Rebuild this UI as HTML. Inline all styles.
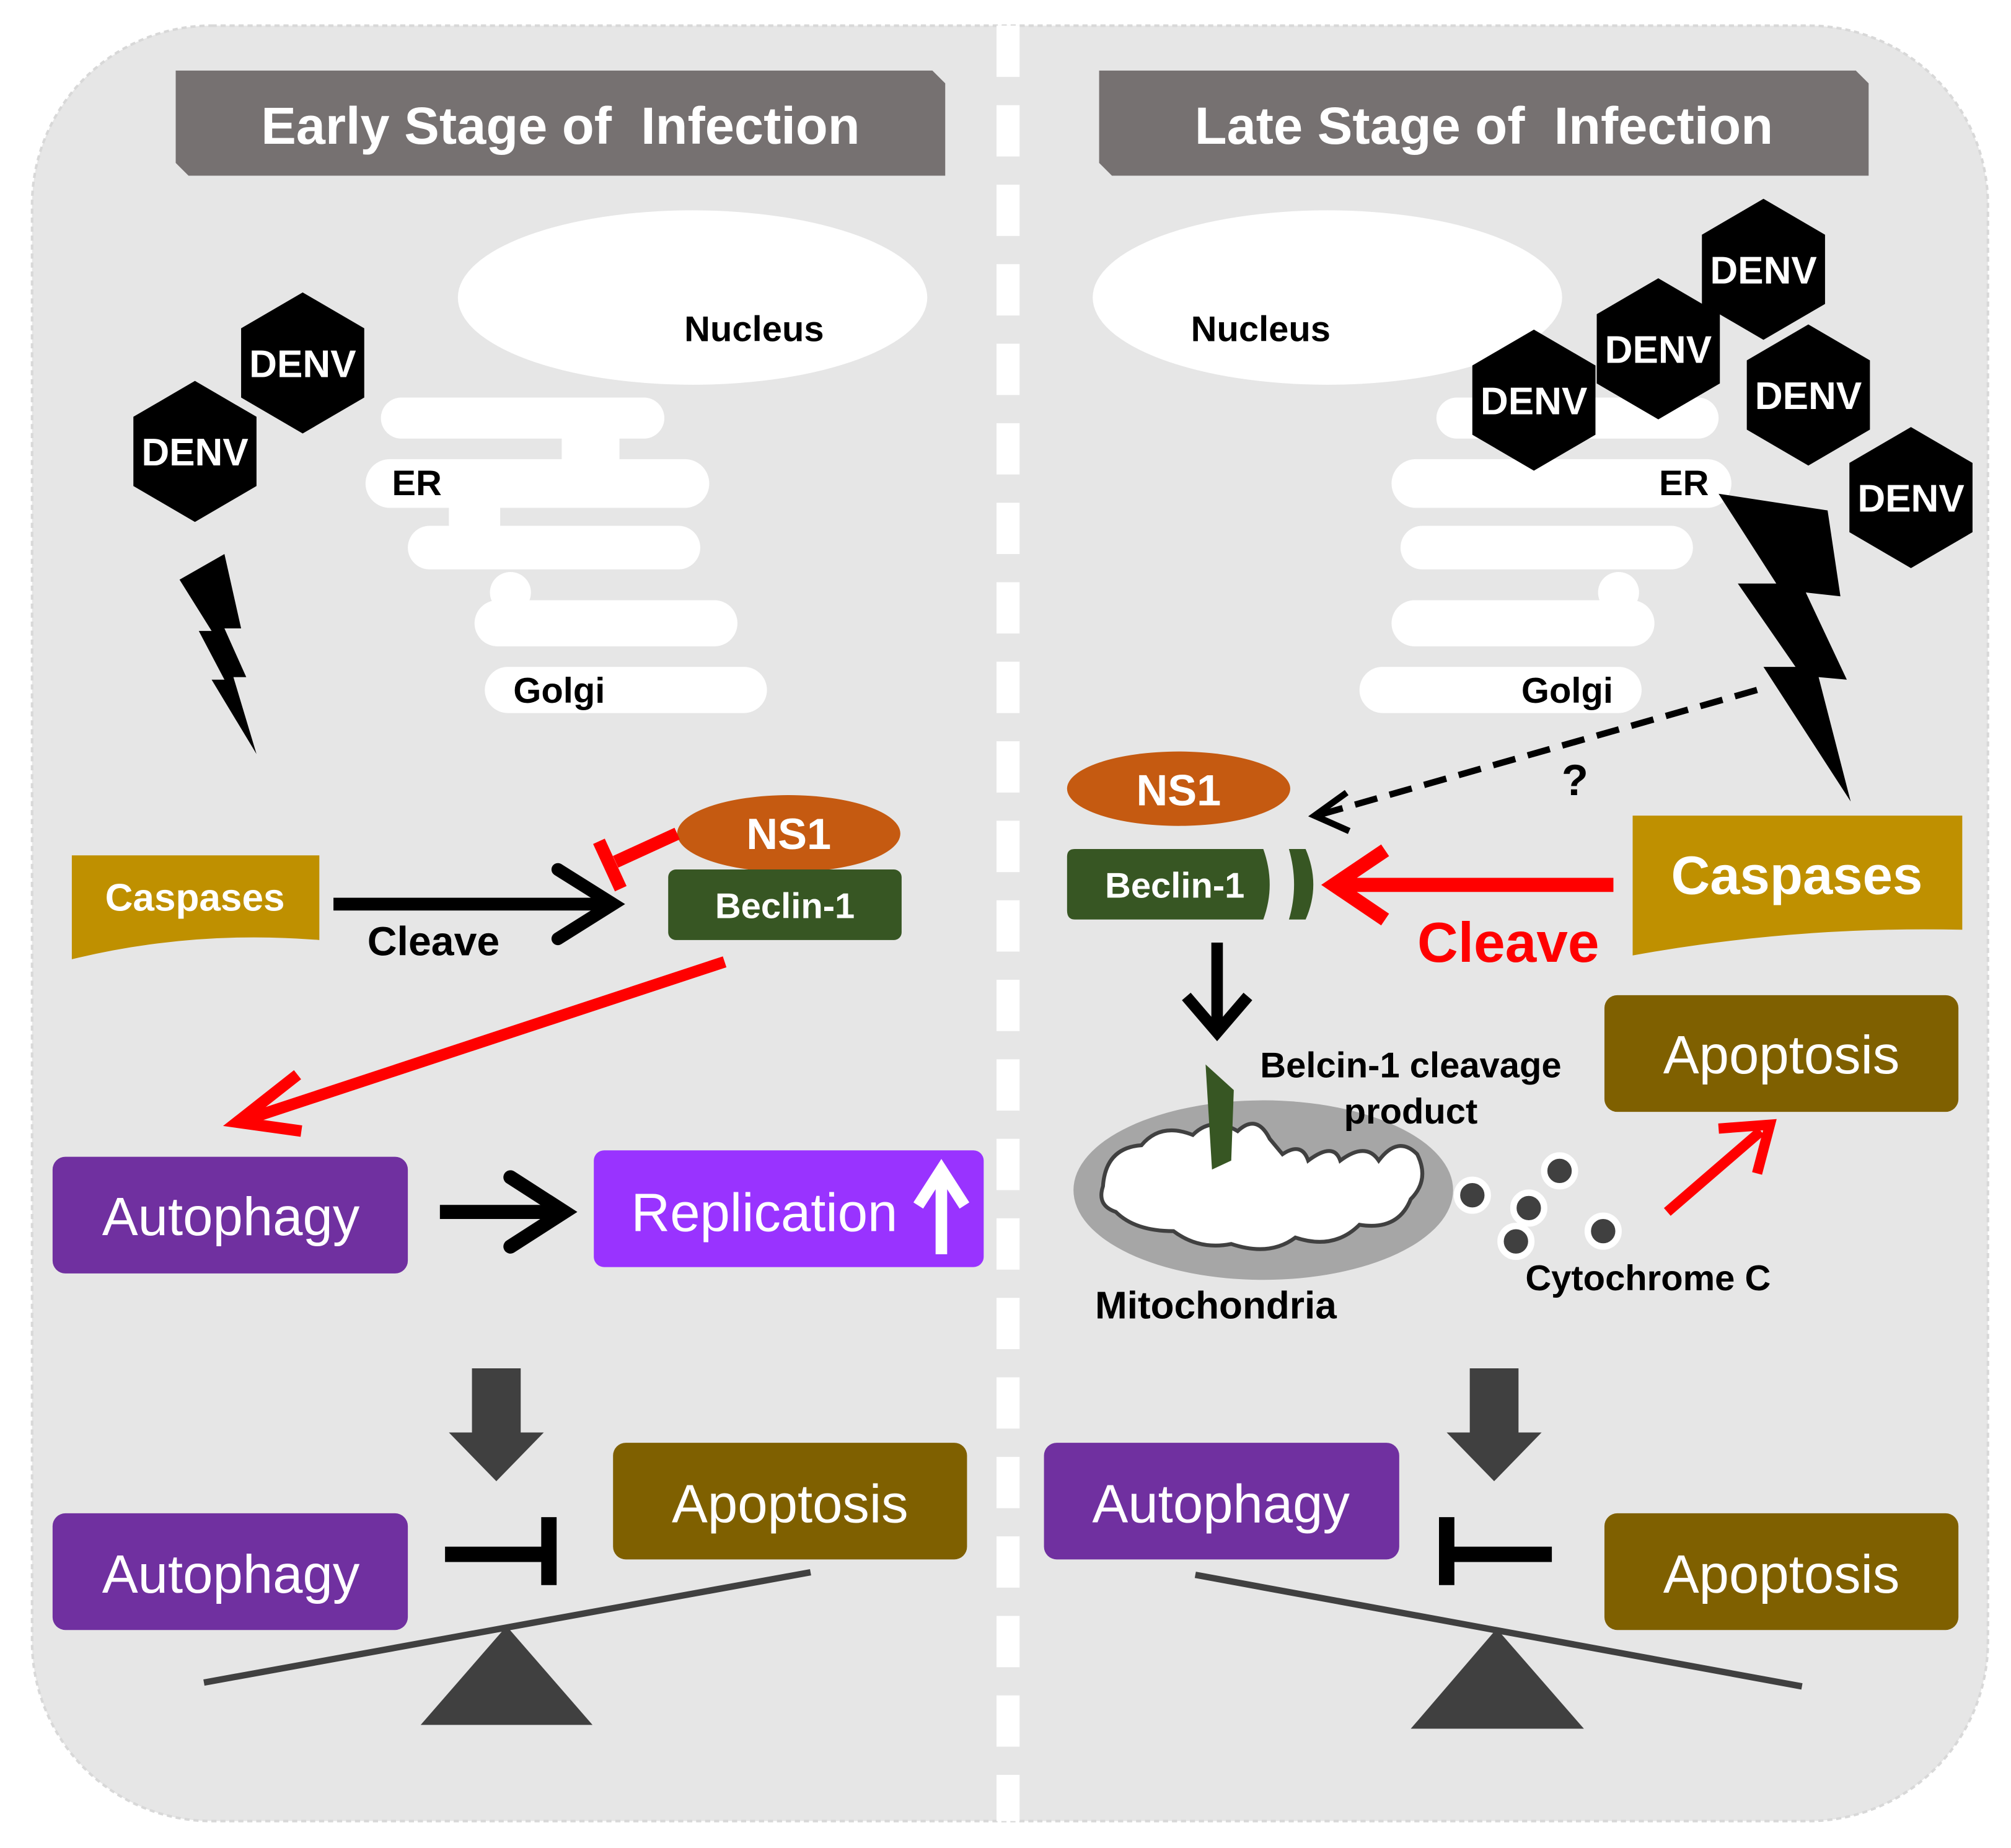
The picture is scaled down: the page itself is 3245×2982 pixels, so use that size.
<!DOCTYPE html>
<html><head><meta charset="utf-8"><style>
html,body{margin:0;padding:0;background:#fff}
svg{display:block}
text{font-family:"Liberation Sans",Arial,sans-serif}
</style></head><body>
<svg width="3245" height="2982" viewBox="0 0 1568 1441" preserveAspectRatio="none" xmlns="http://www.w3.org/2000/svg">
<defs>
<g id="hex"><polygon points="0,-55 48,-27 48,27 0,55 -48,27 -48,-27" fill="#000"/></g>
</defs>
<rect x="25" y="20" width="1525" height="1400" rx="140" fill="#e6e6e6" stroke="#d8d8d8" stroke-width="2" stroke-dasharray="4 3"/>
<line x1="786" y1="20" x2="786" y2="1420" stroke="#fff" stroke-width="18" stroke-dasharray="40 22"/>

<polygon points="137,55 727,55 737,65 737,137 147,137 137,127" fill="#767171"/>
<text x="437" y="112" font-size="41" font-weight="bold" fill="#fff" text-anchor="middle">Early Stage of&#160; Infection</text>
<polygon points="857,55 1447,55 1457,65 1457,137 867,137 857,127" fill="#767171"/>
<text x="1157" y="112" font-size="41" font-weight="bold" fill="#fff" text-anchor="middle">Late Stage of&#160; Infection</text>

<ellipse cx="540" cy="232" rx="183" ry="68" fill="#fff"/>
<text x="588" y="266" font-size="28" font-weight="bold" text-anchor="middle">Nucleus</text>
<g fill="#fff">
<rect x="297" y="310" width="221" height="32" rx="16"/>
<rect x="438" y="335" width="45" height="30"/>
<rect x="285" y="358" width="268" height="38" rx="19"/>
<rect x="350" y="390" width="40" height="25"/>
<rect x="318" y="410" width="228" height="34" rx="17"/>
<rect x="370" y="468" width="205" height="36" rx="18"/>
<circle cx="398" cy="462" r="16"/>
<rect x="378" y="520" width="220" height="36" rx="18"/>
</g>
<text x="325" y="386" font-size="28" font-weight="bold" text-anchor="middle">ER</text>
<text x="436" y="548" font-size="28" font-weight="bold" text-anchor="middle">Golgi</text>

<use href="#hex" x="236" y="283"/>
<text x="236" y="294" font-size="30" font-weight="bold" fill="#fff" text-anchor="middle">DENV</text>
<use href="#hex" x="152" y="352"/>
<text x="152" y="363" font-size="30" font-weight="bold" fill="#fff" text-anchor="middle">DENV</text>

<polygon points="175,432 188,490 175,490 192,528 182,528 200,588 165,530 175,530 155,492 165,492 140,452" fill="#000"/>

<path d="M56,667 L249,667 L249,733 Q150,725 56,748 Z" fill="#bf9000"/>
<text x="152" y="710" font-size="30" font-weight="bold" fill="#fff" text-anchor="middle">Caspases</text>
<line x1="260" y1="705" x2="475" y2="705" stroke="#000" stroke-width="10"/>
<polyline points="435,678 478,705 435,732" fill="none" stroke="#000" stroke-width="10" stroke-linecap="round"/>
<text x="338" y="745" font-size="32" font-weight="bold" text-anchor="middle">Cleave</text>

<ellipse cx="615" cy="650" rx="87" ry="30" fill="#c55a11"/>
<text x="615" y="662" font-size="34" font-weight="bold" fill="#fff" text-anchor="middle">NS1</text>
<rect x="521" y="678" width="182" height="55" rx="6" fill="#375623"/>
<text x="612" y="716" font-size="28" font-weight="bold" fill="#fff" text-anchor="middle">Beclin-1</text>
<line x1="528" y1="650" x2="480" y2="672" stroke="#f00" stroke-width="10"/>
<line x1="467" y1="656" x2="484" y2="693" stroke="#f00" stroke-width="10"/>

<line x1="565" y1="750" x2="195" y2="872" stroke="#f00" stroke-width="9"/>
<polyline points="232,838 185,875 235,882" fill="none" stroke="#f00" stroke-width="9"/>

<rect x="41" y="902" width="277" height="91" rx="10" fill="#7030a0"/>
<text x="180" y="963" font-size="42" fill="#fff" text-anchor="middle">Autophagy</text>
<line x1="343" y1="945" x2="435" y2="945" stroke="#000" stroke-width="11"/>
<polyline points="398,918 440,945 398,972" fill="none" stroke="#000" stroke-width="11" stroke-linecap="round"/>
<rect x="463" y="897" width="304" height="91" rx="8" fill="#9933ff"/>
<text x="596" y="960" font-size="42" fill="#fff" text-anchor="middle">Replication</text>
<line x1="734" y1="978" x2="734" y2="918" stroke="#fff" stroke-width="9"/>
<polyline points="716,940 734,912 752,940" fill="none" stroke="#fff" stroke-width="9"/>

<polygon points="368,1067 406,1067 406,1117 424,1117 387,1155 350,1117 368,1117" fill="#404040"/>
<rect x="41" y="1180" width="277" height="91" rx="10" fill="#7030a0"/>
<text x="180" y="1242" font-size="42" fill="#fff" text-anchor="middle">Autophagy</text>
<line x1="347" y1="1212" x2="428" y2="1212" stroke="#000" stroke-width="12"/>
<line x1="428" y1="1183" x2="428" y2="1236" stroke="#000" stroke-width="12"/>
<rect x="478" y="1125" width="276" height="91" rx="10" fill="#7f6000"/>
<text x="616" y="1187" font-size="42" fill="#fff" text-anchor="middle">Apoptosis</text>
<line x1="159" y1="1312" x2="632" y2="1226" stroke="#404040" stroke-width="5"/>
<polygon points="395,1268 462,1345 328,1345" fill="#404040"/>

<ellipse cx="1035" cy="232" rx="183" ry="68" fill="#fff"/>
<text x="983" y="266" font-size="28" font-weight="bold" text-anchor="middle">Nucleus</text>
<g fill="#fff">
<rect x="1120" y="310" width="220" height="32" rx="16"/>
<rect x="1085" y="358" width="265" height="38" rx="19"/>
<rect x="1092" y="410" width="228" height="34" rx="17"/>
<rect x="1085" y="468" width="205" height="36" rx="18"/>
<circle cx="1262" cy="462" r="16"/>
<rect x="1060" y="520" width="220" height="36" rx="18"/>
</g>
<text x="1313" y="386" font-size="28" font-weight="bold" text-anchor="middle">ER</text>
<text x="1222" y="548" font-size="28" font-weight="bold" text-anchor="middle">Golgi</text>

<polygon points="1340,385 1425,398 1435,465 1408,462 1440,530 1418,528 1443,625 1375,520 1400,520 1355,455 1385,455" fill="#000"/>

<use href="#hex" x="1375" y="210"/><text x="1375" y="221" font-size="30" font-weight="bold" fill="#fff" text-anchor="middle">DENV</text>
<use href="#hex" x="1293" y="272"/><text x="1293" y="283" font-size="30" font-weight="bold" fill="#fff" text-anchor="middle">DENV</text>
<use href="#hex" x="1196" y="312"/><text x="1196" y="323" font-size="30" font-weight="bold" fill="#fff" text-anchor="middle">DENV</text>
<use href="#hex" x="1410" y="308"/><text x="1410" y="319" font-size="30" font-weight="bold" fill="#fff" text-anchor="middle">DENV</text>
<use href="#hex" x="1490" y="388"/><text x="1490" y="399" font-size="30" font-weight="bold" fill="#fff" text-anchor="middle">DENV</text>

<line x1="1370" y1="538" x2="1030" y2="635" stroke="#000" stroke-width="5" stroke-dasharray="18 10"/>
<polyline points="1050,618 1025,636 1052,648" fill="none" stroke="#000" stroke-width="5"/>
<text x="1228" y="620" font-size="34" font-weight="bold" text-anchor="middle">?</text>

<ellipse cx="919" cy="615" rx="87" ry="29" fill="#c55a11"/>
<text x="919" y="628" font-size="34" font-weight="bold" fill="#fff" text-anchor="middle">NS1</text>
<path d="M838,662 L985,662 Q995,690 985,717 L838,717 Q832,717 832,710 L832,668 Q832,662 838,662 Z" fill="#375623"/>
<text x="916" y="700" font-size="28" font-weight="bold" fill="#fff" text-anchor="middle">Beclin-1</text>
<path d="M1005,662 L1018,662 Q1030,690 1018,717 L1005,717 Q1013,690 1005,662 Z" fill="#375623"/>
<line x1="1258" y1="690" x2="1045" y2="690" stroke="#f00" stroke-width="11"/>
<polyline points="1080,663 1040,690 1080,717" fill="none" stroke="#f00" stroke-width="11"/>
<text x="1176" y="750" font-size="44" font-weight="bold" fill="#f00" text-anchor="middle">Cleave</text>
<path d="M1273,636 L1530,636 L1530,725 Q1400,722 1273,745 Z" fill="#bf9000"/>
<text x="1401" y="697" font-size="42" font-weight="bold" fill="#fff" text-anchor="middle">Caspases</text>

<line x1="949" y1="735" x2="949" y2="800" stroke="#000" stroke-width="9"/>
<polyline points="925,777 949,805 973,777" fill="none" stroke="#000" stroke-width="9"/>

<ellipse cx="985" cy="928" rx="148" ry="70" fill="#a6a6a6"/>
<path d="M860,925 Q862,895 890,893 Q905,875 930,885 Q945,870 965,882 Q980,868 990,888 L1000,900 Q1015,890 1020,905 Q1040,890 1045,905 Q1065,890 1075,905 Q1090,885 1105,900 Q1115,920 1100,935 Q1090,960 1060,955 Q1040,975 1010,965 Q990,980 960,970 Q935,975 915,960 Q885,960 870,945 Q855,940 860,925 Z" fill="#fff" stroke="#404040" stroke-width="3"/>
<polygon points="940,830 962,850 960,905 945,912" fill="#375623"/>
<text x="1100" y="840" font-size="28" font-weight="bold" text-anchor="middle">Belcin-1 cleavage</text>
<text x="1100" y="876" font-size="28" font-weight="bold" text-anchor="middle">product</text>
<text x="948" y="1028" font-size="30" font-weight="bold" text-anchor="middle">Mitochondria</text>
<g fill="#404040" stroke="#fff" stroke-width="5">
<circle cx="1148" cy="932" r="12"/><circle cx="1192" cy="942" r="12"/><circle cx="1216" cy="913" r="12"/>
<circle cx="1182" cy="968" r="12"/><circle cx="1250" cy="960" r="12"/>
</g>
<text x="1285" y="1006" font-size="28" font-weight="bold" text-anchor="middle">Cytochrome C</text>
<line x1="1300" y1="945" x2="1373" y2="882" stroke="#f00" stroke-width="8"/>
<polyline points="1340,880 1380,877 1370,915" fill="none" stroke="#f00" stroke-width="8"/>
<rect x="1251" y="776" width="276" height="91" rx="10" fill="#7f6000"/>
<text x="1389" y="837" font-size="42" fill="#fff" text-anchor="middle">Apoptosis</text>

<polygon points="1146,1067 1184,1067 1184,1117 1202,1117 1165,1155 1128,1117 1146,1117" fill="#404040"/>
<rect x="814" y="1125" width="277" height="91" rx="10" fill="#7030a0"/>
<text x="952" y="1187" font-size="42" fill="#fff" text-anchor="middle">Autophagy</text>
<line x1="1128" y1="1212" x2="1210" y2="1212" stroke="#000" stroke-width="12"/>
<line x1="1128" y1="1183" x2="1128" y2="1236" stroke="#000" stroke-width="12"/>
<rect x="1251" y="1180" width="276" height="91" rx="10" fill="#7f6000"/>
<text x="1389" y="1242" font-size="42" fill="#fff" text-anchor="middle">Apoptosis</text>
<line x1="932" y1="1228" x2="1405" y2="1315" stroke="#404040" stroke-width="5"/>
<polygon points="1167,1270 1235,1348 1100,1348" fill="#404040"/>
</svg>
</body></html>
